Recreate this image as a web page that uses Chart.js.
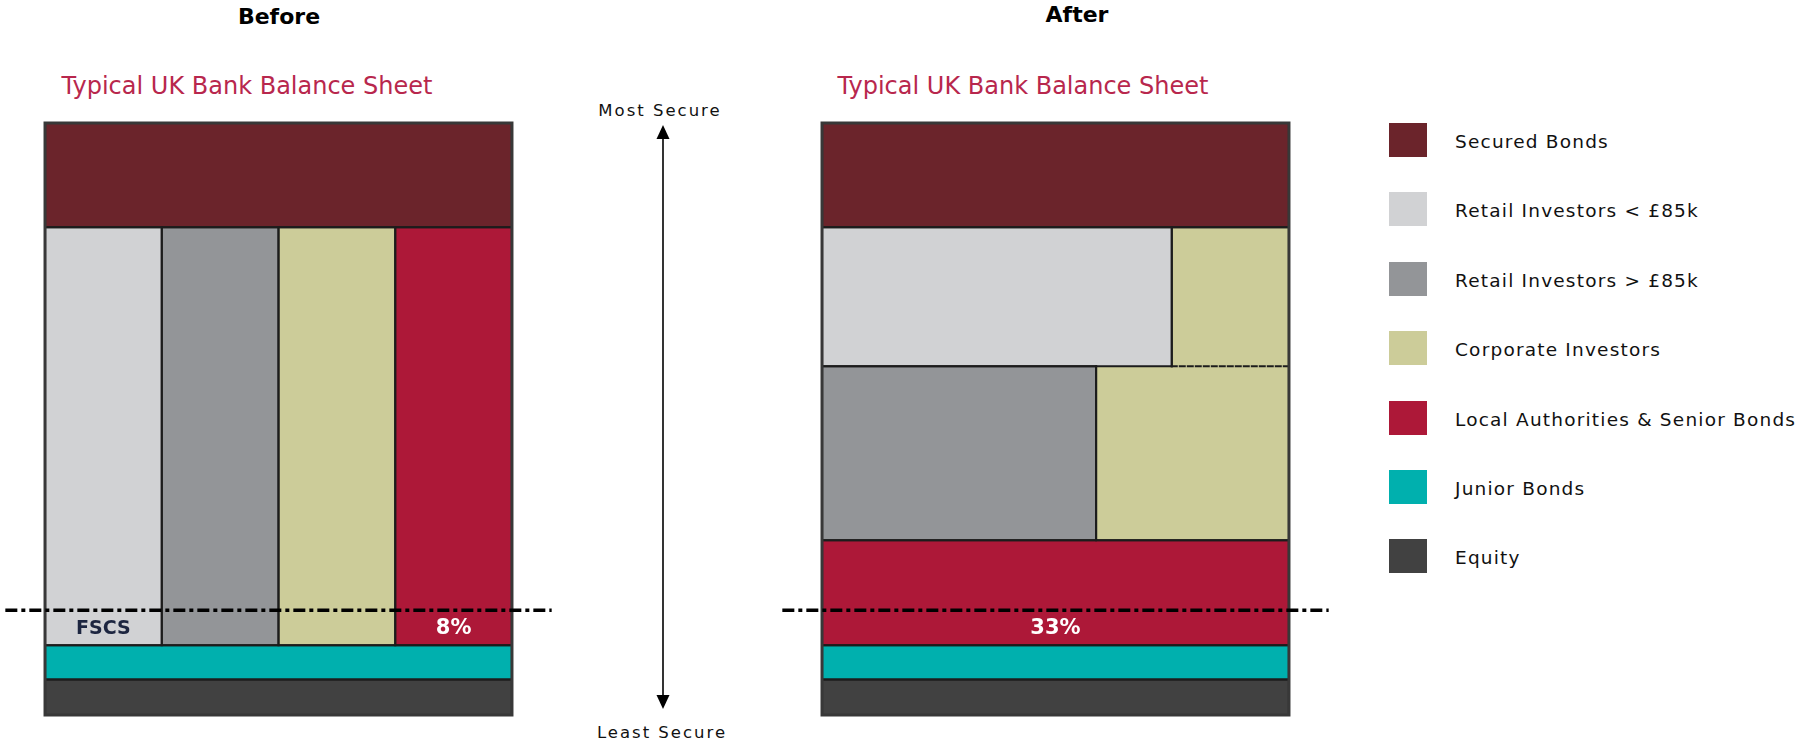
<!DOCTYPE html>
<html>
<head>
<meta charset="utf-8">
<script src="https://cdn.jsdelivr.net/npm/chart.js@4.4.1/dist/chart.umd.min.js"></script>
<style>
  body { margin: 0; background: #fff; width: 1796px; height: 744px; position: relative; overflow: hidden; font-family: "DejaVu Sans", sans-serif; }
  .lbl { position: absolute; transform: translate(-50%, -50%); white-space: nowrap; line-height: 1; }
  .head { font-weight: bold; font-size: 22px; color: #000; }
  .sheet { font-size: 24px; color: #b8274d; }
  .secure { font-size: 16.5px; letter-spacing: 2px; color: #111; }
  canvas { position: absolute; }
  #legend { position: absolute; left: 1389px; top: 123px; width: 420px; }
  .item { height: 69.4px; display: flex; align-items: flex-start; }
  .sw { width: 38px; height: 34px; flex: none; }
  .item span { margin-left: 28px; font-size: 18.5px; letter-spacing: 1.2px; line-height: 38px; color: #111; white-space: nowrap; }
</style>
</head>
<body>
<div class="lbl head" style="left:279px; top:17px;">Before</div>
<div class="lbl head" style="left:1077px; top:15px;">After</div>
<div class="lbl sheet" style="left:247px; top:86px;">Typical UK Bank Balance Sheet</div>
<div class="lbl sheet" style="left:1023px; top:86px;">Typical UK Bank Balance Sheet</div>
<div class="lbl secure" style="left:660px; top:111px;">Most Secure</div>
<div class="lbl secure" style="left:662px; top:733px;">Least Secure</div>

<svg style="position:absolute; left:651px; top:124px;" width="24" height="588">
  <line x1="12" y1="10" x2="12" y2="576" stroke="#000" stroke-width="1.6"/>
  <polygon points="12,1 5.5,15 18.5,15" fill="#000"/>
  <polygon points="12,585 5.5,571 18.5,571" fill="#000"/>
</svg>

<canvas id="beforeChart" width="551" height="600" style="left:3px; top:119px;"></canvas>
<canvas id="afterChart" width="551" height="600" style="left:780px; top:119px;"></canvas>
<div id="legend"></div>

<script>
// ---- data (percent of the balance sheet, bottom tier first) ----
const categories = ["Secured Bonds", "Retail Investors < £85k", "Retail Investors > £85k", "Corporate Investors",
                    "Local Authorities & Senior Bonds", "Junior Bonds", "Equity"];
const colours = ["#6b242b", "#d1d2d4", "#939598", "#cccc99", "#ad1838", "#00b0ae", "#414141"];

const beforeTierHeights = [6.0, 5.8, 70.6, 17.6];
const beforeTierMembers = [
    ["Equity"],
    ["Junior Bonds"],
    ["Retail Investors < £85k", "Retail Investors > £85k", "Corporate Investors", "Local Authorities & Senior Bonds"],
    ["Secured Bonds"]
];
const beforeTierShares = [[100], [100], [25, 25, 25, 25], [100]];

const afterTierHeights = [6.0, 5.8, 17.7, 29.4, 23.5, 17.6];
const afterTierMembers = [
    ["Equity"],
    ["Junior Bonds"],
    ["Local Authorities & Senior Bonds"],
    ["Retail Investors > £85k", "Corporate Investors"],
    ["Retail Investors < £85k", "Corporate Investors"],
    ["Secured Bonds"]
];
const afterTierShares = [[100], [100], [100], [58.7, 41.3], [74.9, 25.1], [100]];

const bailInLevel = 17.7;

const beforeNotes = ["FSCS", "8%"];
const beforeNoteOwners = ["Retail Investors < £85k", "Local Authorities & Senior Bonds"];
const afterNotes = ["33%"];
const afterNoteOwners = ["Local Authorities & Senior Bonds"];

// ---- styling ----
const lineOverhang = 8.5;
const noteColour = { "FSCS": "#1d2640" };

function colourOf(name) {
    return colours[categories.indexOf(name)];
}

function buildBlocks(heights, members, shares) {
    const blocks = [];
    let y0 = 0;
    heights.forEach((h, t) => {
        let x0 = 0;
        members[t].forEach((name, i) => {
            const x1 = x0 + shares[t][i];
            blocks.push({ name, tier: t, x0, x1, y0, y1: y0 + h });
            x0 = x1;
        });
        y0 += h;
    });
    // same holder stacked on itself -> dashed seam instead of a solid edge
    blocks.forEach(b => {
        const below = blocks.find(o => o.tier === b.tier - 1 && o.name === b.name && o.x0 < b.x1 && o.x1 > b.x0);
        if (below) {
            b.seam = true;
            below.openTop = true;
        }
    });
    return blocks;
}

function rectDataset(b) {
    const corners = [{ x: b.x0, y: b.y0 }, { x: b.x1, y: b.y0 }, { x: b.x1, y: b.y1 }, { x: b.x0, y: b.y1 }];
    // the special edge goes first so the filled shape stays whole
    const start = b.seam ? 0 : (b.openTop ? 2 : 0);
    const pts = [0, 1, 2, 3, 4].map(k => corners[(start + k) % 4]);
    const dashed = !!b.seam;
    const hidden = !!b.openTop && !dashed;
    return {
        label: b.name,
        data: pts,
        fill: "shape",
        backgroundColor: colourOf(b.name),
        borderColor: "#1c1c1c",
        borderWidth: 2,
        borderCapStyle: "square",
        borderJoinStyle: "miter",
        pointRadius: 0,
        tension: 0,
        clip: false,
        segment: {
            borderDash: ctx => (dashed && ctx.p0DataIndex === 0) ? [5, 3] : undefined,
            borderColor: ctx => (hidden && ctx.p0DataIndex === 0) ? "rgba(0,0,0,0)" : undefined
        }
    };
}

const notePlugin = {
    id: "noteLabels",
    afterDatasetsDraw(chart, args, opts) {
        const { ctx, scales } = chart;
        opts.texts.forEach((text, i) => {
            const b = opts.blocks.find(o => o.name === opts.owners[i] && o.y0 < bailInLevel && o.y1 > bailInLevel);
            if (!b) return;
            const x = scales.x.getPixelForValue((b.x0 + b.x1) / 2);
            const y = scales.y.getPixelForValue((b.y0 + bailInLevel) / 2);
            ctx.save();
            ctx.font = (text === "FSCS" ? "bold 19px" : "bold 21px") + " 'DejaVu Sans', sans-serif";
            ctx.fillStyle = noteColour[text] || "#ffffff";
            ctx.textAlign = "center";
            ctx.textBaseline = "middle";
            ctx.fillText(text, x, y + 1);
            ctx.restore();
        });
    }
};

function makePanel(canvasId, heights, members, shares, notes, owners) {
    const blocks = buildBlocks(heights, members, shares);
    const frame = {
        label: "frame",
        data: [{ x: 0, y: 0 }, { x: 100, y: 0 }, { x: 100, y: 100 }, { x: 0, y: 100 }, { x: 0, y: 0 }],
        fill: false,
        borderColor: "#383838",
        borderWidth: 3,
        borderCapStyle: "square",
        borderJoinStyle: "miter",
        pointRadius: 0,
        clip: false
    };
    const bailLine = {
        label: "bail-in",
        data: [{ x: -lineOverhang, y: bailInLevel }, { x: 100 + lineOverhang, y: bailInLevel }],
        fill: false,
        borderColor: "#000",
        borderWidth: 3.5,
        borderDash: [12, 4, 4, 4],
        pointRadius: 0,
        clip: false
    };
    return new Chart(document.getElementById(canvasId), {
        type: "line",
        data: { datasets: [bailLine, frame, ...blocks.map(rectDataset)] },
        options: {
            responsive: false,
            animation: false,
            events: [],
            layout: { padding: { top: 4, bottom: 4, left: 0, right: 0 } },
            scales: {
                x: { type: "linear", min: -9, max: 109, display: false },
                y: { type: "linear", min: 0, max: 100, display: false }
            },
            plugins: {
                legend: { display: false },
                tooltip: { enabled: false },
                filler: { drawTime: "beforeDatasetsDraw" },
                noteLabels: { texts: notes, owners: owners, blocks: blocks }
            }
        },
        plugins: [notePlugin]
    });
}

makePanel("beforeChart", beforeTierHeights, beforeTierMembers, beforeTierShares, beforeNotes, beforeNoteOwners);
makePanel("afterChart", afterTierHeights, afterTierMembers, afterTierShares, afterNotes, afterNoteOwners);

// legend
const legendEl = document.getElementById("legend");
legendEl.innerHTML = categories.map((name, i) => `
    <div class="item">
        <div class="sw" style="background:${colours[i]}"></div>
        <span>${name.replace("&", "&amp;").replace("<", "&lt;").replace(">", "&gt;")}</span>
    </div>`).join("");
</script>
</body>
</html>
